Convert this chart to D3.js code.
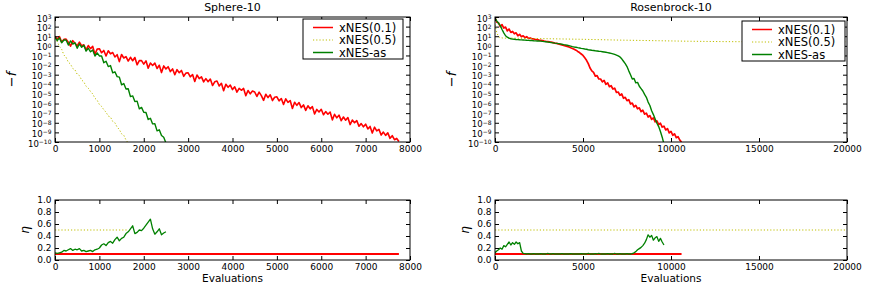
<!DOCTYPE html>
<html><head><meta charset="utf-8">
<script src="https://cdn.jsdelivr.net/npm/d3@7"></script>
<style>
body{margin:0;background:#fff}
svg{display:block}
text{font-family:"DejaVu Sans",sans-serif;fill:#000}
</style>
</head><body>
<svg id="c" width="870" height="286"></svg>
<script>
// ---------------- DATA (log10 of -f, sampled every `step` evaluations) ----------------
const seriesNames = ["xNES(0.1)", "xNES(0.5)", "xNES-as"];

// Sphere-10, top panel
const sphereStepRed = 50;
const sphereRed = [1.0,0.68,0.96,0.39,0.67,0.70,0.38,-0.04,0.54,0.27,
 0.0,0.39,0.02,0.11,-0.41,0.03,-0.29,-0.06,-0.87,-0.34,
 -0.30,-0.72,-0.48,-1.05,-0.51,-0.83,-0.69,-1.16,-0.92,-1.64,
 -0.9,-1.26,-1.12,-1.58,-1.19,-1.55,-1.21,-1.97,-1.53,-1.54,
 -1.9,-1.56,-2.32,-1.78,-2.04,-1.80,-2.36,-2.02,-2.78,-2.09,
 -2.4,-2.17,-2.68,-2.40,-3.01,-2.48,-2.79,-2.56,-3.17,-2.84,
 -2.8,-3.22,-2.99,-3.71,-3.03,-3.40,-3.22,-3.74,-3.41,-3.73,
 -3.45,-4.12,-3.74,-3.66,-4.18,-3.9,-4.67,-3.99,-4.31,-4.08,
 -4.55,-4.26,-4.81,-4.42,-4.62,-4.43,-5.18,-4.64,-4.99,-4.70,
 -4.8,-5.26,-4.81,-5.17,-5.67,-5.03,-5.38,-5.09,-5.69,-5.35,
 -5.3,-5.72,-5.48,-6.10,-5.51,-5.88,-5.69,-6.51,-5.87,-6.19,
 -5.9,-6.42,-6.14,-6.71,-6.23,-6.55,-6.32,-7.09,-6.61,-6.88,
 -6.6,-7.17,-6.84,-7.11,-6.88,-7.7,-7.12,-7.49,-7.21,-7.78,
 -7.4,-7.73,-7.46,-8.19,-7.72,-8.0,-7.78,-8.36,-8.09,-8.42,
 -8.15,-8.64,-8.38,-9.07,-8.46,-8.85,-8.69,-9.28,-8.97,-9.31,
 -9.05,-9.62,-9.34,-9.76,-9.63,-9.95];
const sphereStepYellow = 50;
const sphereYellow = [0.8,0.45,-0.05,-0.35,-0.95,-1.2,-1.7,-1.9,-2.35,-2.5,
 -2.95,-3.1,-3.55,-3.75,-4.2,-4.4,-4.75,-5.0,-5.45,-5.65,
 -6.1,-6.3,-6.65,-6.9,-7.3,-7.4,-7.85,-8.0,-8.45,-8.7,
 -9.15,-9.3,-9.8,-10.1];
const sphereStepGreen = 50;
const sphereGreen = [0.9,0.54,0.83,0.32,0.61,0.6,0.08,0.51,0.19,0.32,
 -0.25,0.2,-0.15,0.05,-0.55,-0.25,-0.62,-0.44,-1.06,-0.73,
 -1.05,-1.05,-1.75,-1.6,-2.15,-2.05,-2.8,-2.7,-3.2,-3.25,
 -4.05,-3.92,-4.49,-4.46,-5.28,-5.2,-5.8,-5.75,-6.55,-6.4,
 -6.9,-6.93,-7.66,-7.54,-8.12,-8.1,-8.84,-8.73,-9.32,-9.51,
 -10.1];

// Rosenbrock-10, top panel
const rosenStepRed = 100;
const rosenRed = [2.95,2.45,2.4,2.0,2.2,1.85,1.95,1.55,1.75,1.4,
 1.5,1.25,1.35,1.05,1.2,0.95,1.05,0.85,0.95,0.78,
 0.82,0.74,0.72,0.66,0.64,0.6,0.57,0.54,0.5,0.47,
 0.45,0.41,0.38,0.34,0.29,0.25,0.2,0.15,0.1,0.05,
 0.0,-0.06,-0.12,-0.2,-0.27,-0.35,-0.45,-0.58,-0.7,-0.85,
 -1.0,-1.25,-1.5,-1.85,-2.3,-2.6,-2.75,-3.15,-3.1,-3.45,
 -3.45,-3.75,-3.6,-4.0,-3.85,-4.25,-4.15,-4.5,-4.4,-4.85,
 -4.8,-5.15,-5.0,-5.45,-5.35,-5.7,-5.6,-6.05,-5.95,-6.35,
 -6.2,-6.55,-6.45,-6.85,-6.7,-7.1,-7.0,-7.4,-7.25,-7.65,
 -7.5,-7.9,-7.8,-8.2,-8.05,-8.45,-8.35,-8.75,-8.6,-9.05,
 -8.9,-9.3,-9.15,-9.55,-9.45,-9.8,-10.0];
const rosenYellowEvals = [0,100,200,300,500,1000,2000,3000,4000,5000,6000,7000,8000,9000,10000,11000,12000,13000,14000,15000,16000,17000,18000,19000,20000];
const rosenYellow = [2.2,1.4,0.95,0.85,0.8,0.8,0.77,0.74,0.71,0.68,0.64,0.6,0.57,0.54,0.51,0.48,0.46,0.44,0.43,0.43,0.43,0.42,0.42,0.42,0.42];
const rosenStepGreen = 100;
const rosenGreen = [2.9,2.6,2.35,2.1,1.7,1.35,1.05,0.9,0.8,0.74,
 0.7,0.68,0.66,0.65,0.63,0.62,0.61,0.6,0.58,0.57,
 0.56,0.55,0.53,0.52,0.51,0.5,0.49,0.46,0.44,0.42,
 0.39,0.37,0.34,0.31,0.28,0.26,0.23,0.2,0.17,0.13,
 0.1,0.06,0.02,-0.03,-0.08,-0.12,-0.15,-0.19,-0.22,-0.26,
 -0.29,-0.33,-0.36,-0.4,-0.43,-0.46,-0.48,-0.51,-0.53,-0.56,
 -0.58,-0.61,-0.64,-0.67,-0.7,-0.74,-0.78,-0.83,-0.89,-0.96,
 -1.04,-1.15,-1.35,-1.6,-1.85,-2.15,-2.6,-3.0,-3.45,-3.4,
 -3.85,-3.8,-4.2,-4.45,-4.7,-5.05,-5.35,-5.85,-6.2,-6.75,
 -7.15,-7.6,-8.05,-8.4,-8.9,-9.5,-10.2];

// Learning rate eta, bottom panels
const sphereEtaRedEvals = [0, 7750];
const sphereEtaRed = [0.1, 0.1];
const sphereEtaYellowEvals = [0, 1650];
const sphereEtaYellow = [0.5, 0.5];
const sphereEtaStepGreen = 50;
const sphereEtaGreen = [0.12,0.11,0.12,0.13,0.16,0.15,0.17,0.19,0.16,0.18,
 0.17,0.19,0.15,0.16,0.14,0.15,0.16,0.14,0.17,0.18,
 0.2,0.25,0.27,0.24,0.29,0.31,0.28,0.34,0.38,0.32,
 0.36,0.38,0.44,0.47,0.52,0.57,0.44,0.46,0.5,0.49,
 0.53,0.58,0.63,0.68,0.52,0.43,0.47,0.52,0.42,0.45,
 0.47];
const rosenEtaRedEvals = [0, 10600];
const rosenEtaRed = [0.1, 0.1];
const rosenEtaYellowEvals = [0, 20000];
const rosenEtaYellow = [0.5, 0.5];
const rosenEtaStepGreen = 100;
const rosenEtaGreen = [0.12,0.15,0.17,0.2,0.18,0.24,0.22,0.26,0.3,0.25,
 0.29,0.26,0.3,0.27,0.29,0.15,0.11,0.105,0.1,0.105,
 0.1,0.1,0.105,0.1,0.1,0.1,0.105,0.1,0.1,0.1,
 0.11,0.1,0.1,0.105,0.1,0.1,0.1,0.1,0.105,0.1,
 0.1,0.1,0.1,0.105,0.1,0.1,0.1,0.1,0.1,0.105,
 0.1,0.1,0.1,0.11,0.1,0.1,0.1,0.105,0.1,0.11,
 0.1,0.1,0.1,0.1,0.105,0.1,0.1,0.1,0.11,0.1,
 0.1,0.105,0.1,0.1,0.1,0.105,0.1,0.1,0.105,0.12,
 0.14,0.17,0.19,0.21,0.24,0.28,0.34,0.42,0.38,0.41,
 0.33,0.37,0.39,0.31,0.36,0.3,0.25];

const sphereTicks = [0,1000,2000,3000,4000,5000,6000,7000,8000];
const rosenTicks = [0,5000,10000,15000,20000];
const logTickExps = [-10,-9,-8,-7,-6,-5,-4,-3,-2,-1,0,1,2,3];
const etaTicks = [0,0.2,0.4,0.6,0.8,1.0];
const titles = ["Sphere-10", "Rosenbrock-10"];

// ---------------- STYLE ----------------
const RED = "#ff0000", YEL = "#bfbf00", GRN = "#008000";
const svg = d3.select("#c");

function pts(vals, step, evals, toY) {
  return vals.map((v, i) => [evals ? evals[i] : i * step, toY(v)]);
}

let clipId = 0;
function panel(o) {
  const w = o.x1 - o.x0, h = o.y1 - o.y0;
  const g = svg.append("g").attr("transform", `translate(${o.x0},${o.y0})`);
  const x = d3.scaleLinear().domain(o.xDomain).range([0, w]);
  const y = o.log ? d3.scaleLog().domain([1e-10, 1e3]).range([h, 0])
                  : d3.scaleLinear().domain([0, 1]).range([h, 0]);
  const id = "clip" + (clipId++);
  g.append("clipPath").attr("id", id).append("rect").attr("width", w).attr("height", h);
  const plot = g.append("g").attr("clip-path", `url(#${id})`);
  const line = d3.line().x(d => x(d[0])).y(d => y(d[1]));
  o.series.forEach(s => {
    plot.append("path").datum(s.data).attr("d", line)
      .attr("fill", "none").attr("stroke", s.color)
      .attr("stroke-width", s.width || 1.2)
      .attr("stroke-linejoin", "round")
      .attr("stroke-dasharray", s.dash || null)
      .attr("opacity", s.opacity || 1);
  });
  const ax = (sel) => { sel.select(".domain").remove(); sel.selectAll("line").attr("stroke", "#000"); };
  g.append("g").attr("transform", `translate(0,${h})`)
    .call(d3.axisBottom(x).tickValues(o.xTicks).tickSizeInner(-4).tickSizeOuter(0).tickPadding(3.5).tickFormat(d3.format("d")))
    .call(ax).selectAll("text").attr("font-size", 9).attr("font-family", '"DejaVu Sans",sans-serif');
  g.append("g")
    .call(d3.axisTop(x).tickValues(o.xTicks).tickSizeInner(-4).tickSizeOuter(0).tickFormat(""))
    .call(ax);
  g.append("g").attr("transform", `translate(${w},0)`)
    .call(d3.axisRight(y).tickValues(o.yTicks).tickSizeInner(-4).tickSizeOuter(0).tickFormat(""))
    .call(ax);
  const la = g.append("g")
    .call(d3.axisLeft(y).tickValues(o.yTicks).tickSizeInner(-4).tickSizeOuter(0).tickPadding(3.5)
      .tickFormat(o.log ? () => "" : d3.format(".1f")))
    .call(ax);
  la.selectAll("text").attr("font-size", 9).attr("font-family", '"DejaVu Sans",sans-serif');
  if (o.log) {
    la.selectAll(".tick text").each(function(d) {
      const t = d3.select(this).attr("dy", "0.45em");
      const e = Math.round(Math.log10(d));
      t.append("tspan").attr("font-size", 8.5).text("10");
      t.append("tspan").attr("dy", "-0.42em").attr("font-size", 6)
        .text(String(e).replace("-", "\u2212"));
    });
  }
  g.append("rect").attr("width", w).attr("height", h)
    .attr("fill", "none").attr("stroke", "#000").attr("stroke-width", 1);
  if (o.title) g.append("text").attr("x", w / 2).attr("y", -6).attr("text-anchor", "middle")
    .attr("font-size", 11).text(o.title);
  if (o.xLabel) g.append("text").attr("x", w / 2).attr("y", h + 22).attr("text-anchor", "middle")
    .attr("font-size", 10.5).text(o.xLabel);
  if (o.yLabel) g.append("text").attr("transform", `translate(${o.yLabelX},${h / 2}) rotate(-90)`)
    .attr("text-anchor", "middle").attr("font-size", o.yLabelSize).attr("font-style", "italic")
    .text(o.yLabel);
  if (o.legend) {
    const L = o.legend;
    const lg = svg.append("g").attr("transform", `translate(${L.x},${L.y})`);
    lg.append("rect").attr("width", L.w).attr("height", L.h).attr("fill", "#fff")
      .attr("stroke", "#000").attr("stroke-width", 1);
    o.series.forEach((s, i) => {
      const yy = 8.5 + i * 12.5;
      lg.append("line").attr("x1", 10).attr("x2", 30).attr("y1", yy).attr("y2", yy)
        .attr("stroke", s.color).attr("stroke-width", s.legendWidth || 1.5)
        .attr("stroke-dasharray", s.dash || null);
      lg.append("text").attr("x", 36).attr("y", yy).attr("dy", "0.36em")
        .attr("font-size", 11.5).text(seriesNames[i]);
    });
  }
}

const logY = v => Math.pow(10, v);
const linY = v => v;
const DOT = "1.2,2";

panel({ x0: 55, x1: 410, y0: 17, y1: 142, xDomain: [0, 8000], xTicks: sphereTicks, log: true,
  yTicks: logTickExps.map(logY), title: titles[0], yLabel: "\u2212f", yLabelX: -39, yLabelSize: 13,
  legend: { x: 303, y: 19, w: 100, h: 40 },
  series: [
    { data: pts(sphereRed, sphereStepRed, null, logY), color: RED, width: 1.6 },
    { data: pts(sphereYellow, sphereStepYellow, null, logY), color: YEL, width: 1, dash: DOT, legendWidth: 1 },
    { data: pts(sphereGreen, sphereStepGreen, null, logY), color: GRN, width: 1.4 }
  ]});
panel({ x0: 495, x1: 847, y0: 17, y1: 142, xDomain: [0, 20000], xTicks: rosenTicks, log: true,
  yTicks: logTickExps.map(logY), title: titles[1], yLabel: "\u2212f", yLabelX: -39, yLabelSize: 13,
  legend: { x: 742, y: 21, w: 103, h: 40 },
  series: [
    { data: pts(rosenRed, rosenStepRed, null, logY), color: RED, width: 1.7 },
    { data: pts(rosenYellow, null, rosenYellowEvals, logY), color: YEL, width: 1, dash: DOT, legendWidth: 1 },
    { data: pts(rosenGreen, rosenStepGreen, null, logY), color: GRN, width: 1.4 }
  ]});
panel({ x0: 55, x1: 410, y0: 200, y1: 260, xDomain: [0, 8000], xTicks: sphereTicks, log: false,
  yTicks: etaTicks, xLabel: "Evaluations", yLabel: "\u03b7", yLabelX: -26, yLabelSize: 12,
  series: [
    { data: pts(sphereEtaRed, null, sphereEtaRedEvals, linY), color: RED, width: 2 },
    { data: pts(sphereEtaYellow, null, sphereEtaYellowEvals, linY), color: YEL, width: 1, dash: DOT },
    { data: pts(sphereEtaGreen, sphereEtaStepGreen, null, linY), color: GRN, width: 1.3 }
  ]});
panel({ x0: 495, x1: 847, y0: 200, y1: 260, xDomain: [0, 20000], xTicks: rosenTicks, log: false,
  yTicks: etaTicks, xLabel: "Evaluations", yLabel: "\u03b7", yLabelX: -26, yLabelSize: 12,
  series: [
    { data: pts(rosenEtaRed, null, rosenEtaRedEvals, linY), color: RED, width: 2 },
    { data: pts(rosenEtaYellow, null, rosenEtaYellowEvals, linY), color: YEL, width: 1, dash: DOT },
    { data: pts(rosenEtaGreen, rosenEtaStepGreen, null, linY), color: GRN, width: 1.3 }
  ]});
</script>
</body></html>
